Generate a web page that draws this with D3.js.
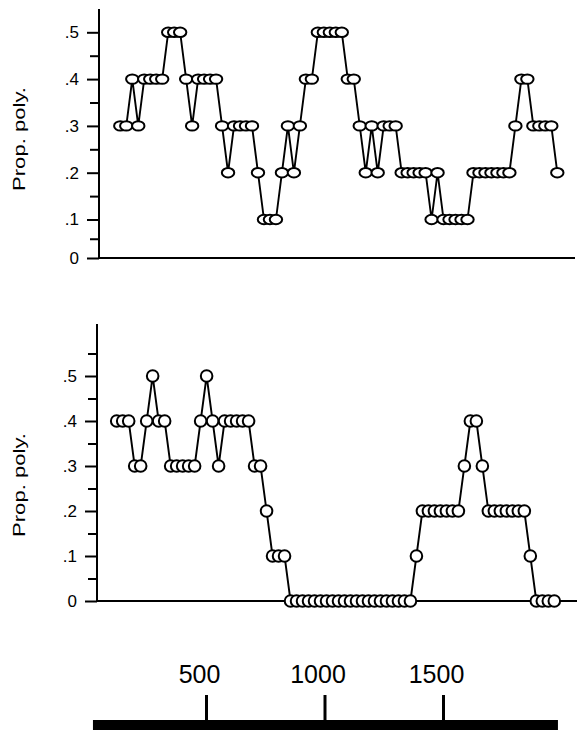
<!DOCTYPE html>
<html>
<head>
<meta charset="utf-8">
<script src="https://cdn.jsdelivr.net/npm/d3@7/dist/d3.min.js"></script>
<style>
  body { margin: 0; background: #fff; }
  svg { display: block; }
  text { font-family: "Liberation Sans", Arial, Helvetica, sans-serif; fill: #000; }
</style>
</head>
<body>
<svg id="chart" width="580" height="730"></svg>
<script>
// proportion polymorphic, one value per window, left to right
const topProp = [
  .3, .3, .4, .3, .4, .4, .4, .4, .5, .5, .5, .4, .3, .4, .4, .4, .4, .3, .2, .3,
  .3, .3, .3, .2, .1, .1, .1, .2, .3, .2, .3, .4, .4, .5, .5, .5, .5, .5, .4, .4,
  .3, .2, .3, .2, .3, .3, .3, .2, .2, .2, .2, .2, .1, .2, .1, .1, .1, .1, .1, .2,
  .2, .2, .2, .2, .2, .2, .3, .4, .4, .3, .3, .3, .3, .2
];
const bottomProp = [
  .4, .4, .4, .3, .3, .4, .5, .4, .4, .3, .3, .3, .3, .3, .4, .5, .4, .3, .4, .4,
  .4, .4, .4, .3, .3, .2, .1, .1, .1, 0, 0, 0, 0, 0, 0, 0, 0, 0, 0, 0,
  0, 0, 0, 0, 0, 0, 0, 0, 0, 0, .1, .2, .2, .2, .2, .2, .2, .2, .3, .4,
  .4, .3, .2, .2, .2, .2, .2, .2, .2, .1, 0, 0, 0, 0
];
const yTicks = [0, .1, .2, .3, .4, .5];
const yTickLabels = ["0", ".1", ".2", ".3", ".4", ".5"];
const topMinor = [.05, .15, .25, .35, .45];
const bottomMinor = [.05, .15, .25, .35, .45, .55];
const bpTicks = [500, 1000, 1500];
const bpExtent = [23, 1985];
const yTitle = "Prop. poly.";

const svg = d3.select("#chart");

const panels = [
  {
    data: topProp, minor: topMinor,
    axisX: 99, axisTop: 9, axisRight: 575,
    xRange: [120.3, 557.3],
    y: d3.scaleLinear().domain([0, .1, .5]).range([258, 219.5, 32.3]),
    titleY: 139, rx: 6.2, ry: 4.7
  },
  {
    data: bottomProp, minor: bottomMinor,
    axisX: 97, axisTop: 324, axisRight: 577,
    xRange: [116.7, 554.3],
    y: d3.scaleLinear().domain([0, .5]).range([601, 376]),
    titleY: 485, rx: 5.8, ry: 5.8
  }
];

panels.forEach(p => {
  const g = svg.append("g");
  const x = d3.scaleLinear().domain([0, p.data.length - 1]).range(p.xRange);
  const y = p.y;

  // axis lines
  g.append("line")
    .attr("x1", p.axisX).attr("x2", p.axisX)
    .attr("y1", p.axisTop).attr("y2", y(0) + 1)
    .attr("stroke", "#000").attr("stroke-width", 2);
  g.append("line")
    .attr("x1", p.axisX).attr("x2", p.axisRight)
    .attr("y1", y(0)).attr("y2", y(0))
    .attr("stroke", "#000").attr("stroke-width", 1.8);

  // major ticks + labels
  const major = g.append("g")
    .attr("transform", `translate(${p.axisX},0)`)
    .call(d3.axisLeft(y).tickValues(yTicks)
      .tickFormat((d, i) => yTickLabels[i])
      .tickSize(12).tickPadding(8));
  major.select(".domain").remove();
  major.selectAll("line").attr("stroke-width", 2);
  major.selectAll("text")
    .attr("font-family", null)
    .style("font-size", "17px");

  // minor ticks
  const minor = g.append("g")
    .attr("transform", `translate(${p.axisX},0)`)
    .call(d3.axisLeft(y).tickValues(p.minor).tickFormat("").tickSize(9));
  minor.select(".domain").remove();
  minor.selectAll("line").attr("stroke-width", 2);

  // y title
  g.append("text")
    .attr("transform", `translate(25,${p.titleY}) rotate(-90)`)
    .attr("text-anchor", "middle")
    .attr("textLength", 104)
    .attr("lengthAdjust", "spacingAndGlyphs")
    .style("font-size", "17px")
    .text(yTitle);

  // series
  const line = d3.line().x((d, i) => x(i)).y(d => y(d));
  g.append("path")
    .datum(p.data)
    .attr("d", line)
    .attr("fill", "none")
    .attr("stroke", "#000")
    .attr("stroke-width", 1.9)
    .attr("stroke-linejoin", "round");

  g.selectAll("ellipse")
    .data(p.data)
    .join("ellipse")
    .attr("cx", (d, i) => x(i))
    .attr("cy", d => y(d))
    .attr("rx", p.rx)
    .attr("ry", p.ry)
    .attr("fill", "#fff")
    .attr("stroke", "#000")
    .attr("stroke-width", 2);
});

// sequence position bar
const bp = d3.scaleLinear().domain([500, 1500]).range([206, 443]);
svg.append("rect")
  .attr("x", bp(bpExtent[0]))
  .attr("y", 720)
  .attr("width", bp(bpExtent[1]) - bp(bpExtent[0]))
  .attr("height", 10)
  .attr("fill", "#000");

const bpAxis = svg.append("g")
  .attr("transform", "translate(0,721)")
  .call(d3.axisTop(bp).tickValues(bpTicks).tickFormat(d3.format("d"))
    .tickSize(26).tickPadding(12));
bpAxis.select(".domain").remove();
bpAxis.selectAll("line").attr("stroke-width", 3);
bpAxis.selectAll("text")
  .attr("font-family", null)
  .attr("dx", -7)
  .style("font-size", "25px");
</script>
</body>
</html>
